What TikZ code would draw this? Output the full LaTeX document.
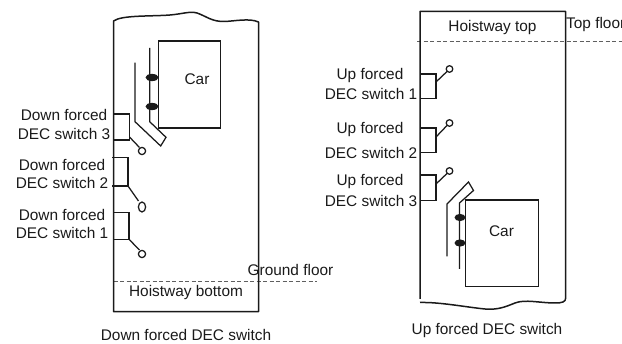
\documentclass[tikz,border=0pt]{standalone}
\usepackage{fontspec}
\setmainfont{Liberation Sans}
\definecolor{ink}{HTML}{1A1A1A}
\tikzset{
  wall/.style={draw=ink,line width=1.5pt,line join=round},
  thin line/.style={draw=ink,line width=1.25pt,line join=miter},
  floorline/.style={draw=ink!70,line width=.7pt,dash pattern=on 4pt off 2.5pt},
  lbl/.style={inner sep=0pt,text=ink,font=\fontsize{15.4}{17}\selectfont},
  shoe/.style={fill=ink,draw=none},
  contact/.style={draw=ink,line width=1.25pt,fill=white},
}
\begin{document}
\begin{tikzpicture}[x=1pt,y=-1pt]
\useasboundingbox (0,0) rectangle (622,344);
% ---------- left: down forced
\draw[floorline] (113.5,281) -- (317,281);
\draw[wall] (113.5,21) .. controls (122,15) and (150,16.5) .. (170,15) .. controls (182,14) and (190,11) .. (197,13) .. controls (206,16) and (212,22) .. (225,21.5) .. controls (235,21) and (250,18) .. (258.5,22) -- (258.5,311.7) -- (113.5,311.7) -- cycle;
\draw[thin line] (158.5,41) rectangle (220.5,128);
\draw[thin line] (135,62.7) -- (135,121.7) -- (160.7,146) -- (166,137.3) -- (149.7,121.7) -- (149.7,48);
\fill[shoe] (152,77.5) ellipse (6.5 and 3.6);
\fill[shoe] (152,106.5) ellipse (6.5 and 3.6);
\draw[thin line] (113.5,114) -- (129.5,114) -- (129.5,140) -- (113.5,140);
\draw[thin line] (129.5,137) -- (139.5,147.5);
\draw[contact] (142,151) circle (3.6);
\draw[thin line] (112,157.5) -- (128,157.5) -- (128,186) -- (112,186);
\draw[thin line] (128,186) -- (138.5,201);
\draw[contact] (142,207) ellipse (3.6 and 5);
\draw[thin line] (113.5,212.3) -- (129,212.3) -- (129,239.3) -- (113.5,239.3);
\draw[thin line] (129,239.3) -- (139.5,250);
\draw[contact] (142,254) circle (3.6);
\node[lbl] (carL) at (197,79) {Car};
\node[lbl] (d3a) at (64,115) {Down forced};
\node[lbl] (d3b) at (64,133.5) {DEC switch 3};
\node[lbl] (d2a) at (62,165) {Down forced};
\node[lbl] (d2b) at (62,183) {DEC switch 2};
\node[lbl] (d1a) at (62,215) {Down forced};
\node[lbl] (d1b) at (62,233) {DEC switch 1};
\node[lbl] (gf) at (290.5,269.5) {Ground floor};
\node[lbl] (hb) at (186,293) {Hoistway bottom};
\node[lbl] (capL) at (186,334.5) {Down forced DEC switch};
% ---------- right: up forced
\draw[floorline] (417,41) -- (622,41);
\draw[wall] (420,299) -- (420,11.5) -- (565.7,11.5) -- (565.7,298) .. controls (565.7,302) and (562,303) .. (555,303) .. controls (540,303) and (525,299) .. (515,303) .. controls (505,307) and (498,310) .. (485,309) .. controls (465,307) and (440,302) .. (420,302.5);
\draw[thin line] (465.3,200) rectangle (538.3,286.7);
\draw[thin line] (447,256.5) -- (447,204) -- (468.5,182) -- (473.5,190.5) -- (459.5,203) -- (459.5,269);
\fill[shoe] (460,217.5) ellipse (5.5 and 3.6);
\fill[shoe] (460,243) ellipse (5.5 and 3.6);
\draw[thin line] (420,74) -- (436,74) -- (436,98.7) -- (420,98.7);
\draw[thin line] (436,82) -- (447,71.5);
\draw[contact] (449.5,69) circle (3.3);
\draw[thin line] (420,128) -- (436,128) -- (436,152.7) -- (420,152.7);
\draw[thin line] (436,137) -- (447,125.5);
\draw[contact] (449.5,123) circle (3.3);
\draw[thin line] (420,175) -- (436,175) -- (436,200.5) -- (420,200.5);
\draw[thin line] (436,184) -- (447,173.5);
\draw[contact] (449.5,171) circle (3.3);
\node[lbl] (carR) at (501.5,231) {Car};
\node[lbl] (u1a) at (370,75.5) {Up forced};
\node[lbl] (u1b) at (371,94) {DEC switch 1};
\node[lbl] (u2a) at (370,129.5) {Up forced};
\node[lbl] (u2b) at (371,153) {DEC switch 2};
\node[lbl] (u3a) at (370,182) {Up forced};
\node[lbl] (u3b) at (371,200.5) {DEC switch 3};
\node[lbl] (ht) at (492.5,28) {Hoistway top};
\node[lbl,anchor=west] (tf) at (566,24.5) {Top floor};
\node[lbl] (capR) at (487,331) {Up forced DEC switch};
\end{tikzpicture}
\end{document}
